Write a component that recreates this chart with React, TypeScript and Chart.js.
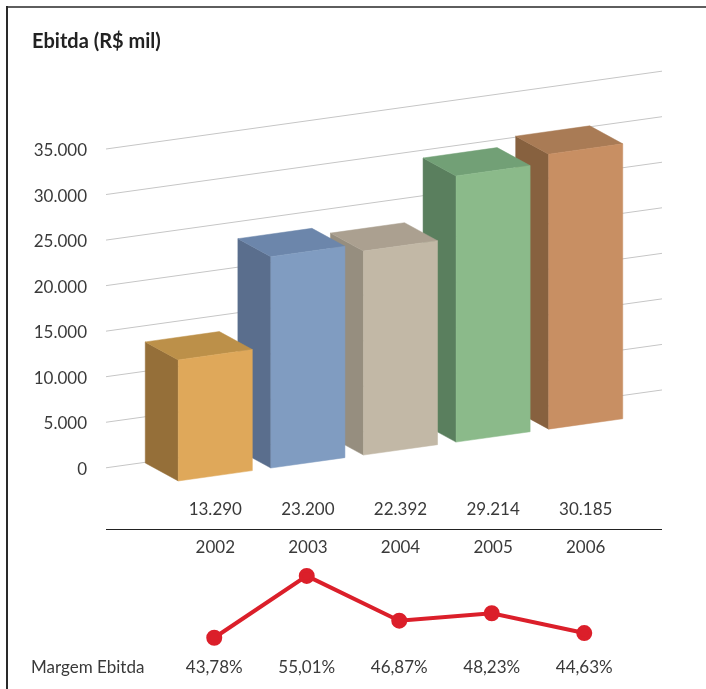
import React, { useEffect, useRef } from "react";
import { Chart, registerables } from "chart.js";

Chart.register(...registerables);

const years = ["2002", "2003", "2004", "2005", "2006"];
const ebitda = [13290, 23200, 22392, 29214, 30185];
const margem = [43.78, 55.01, 46.87, 48.23, 44.63];
const frontColors = ["#DFA85A", "#809CC1", "#C2B8A6", "#8BBA8A", "#C88F63"];
const sideColors = ["#956F39", "#5A6E8D", "#968E7F", "#5A7F5E", "#87613F"];
const topColors = ["#BC9049", "#6C86AB", "#ABA090", "#72A076", "#A97B55"];

const FONT = "Lato";
const TEXT = "#3a3a3a";
const SLOPE = -0.14;
const WALL_LEFT = 106;
const WALL_RIGHT = 662;
const FRONT_OFFSET = 23.3;
const DEPTH_X = -33;
const DEPTH_Y = -18;

const fmtThousands = (v: number) => String(v).replace(/\B(?=(\d{3})+(?!\d))/g, ".");
const fmtPct = (v: number) => v.toFixed(2).replace(".", ",") + "%";
const shear = (x: number) => SLOPE * (x - WALL_LEFT);

function poly(ctx: CanvasRenderingContext2D, pts: number[][], color: string) {
  ctx.beginPath();
  pts.forEach((p, i) => (i ? ctx.lineTo(p[0], p[1]) : ctx.moveTo(p[0], p[1])));
  ctx.closePath();
  ctx.fillStyle = color;
  ctx.fill();
  ctx.strokeStyle = color;
  ctx.lineWidth = 0.5;
  ctx.stroke();
}

const wallAndRule = {
  id: "wallAndRule",
  beforeDatasetsDraw(chart: any) {
    const { ctx, scales } = chart;
    ctx.save();
    ctx.strokeStyle = "#c6c6c6";
    ctx.lineWidth = 1;
    scales.y.ticks.forEach((t: any) => {
      const y = scales.y.getPixelForValue(t.value);
      ctx.beginPath();
      ctx.moveTo(WALL_LEFT, y);
      ctx.lineTo(WALL_RIGHT, y + shear(WALL_RIGHT));
      ctx.stroke();
    });
    ctx.strokeStyle = "#222";
    ctx.lineWidth = 1;
    ctx.beginPath();
    ctx.moveTo(WALL_LEFT, 529.5);
    ctx.lineTo(WALL_RIGHT, 529.5);
    ctx.stroke();
    ctx.restore();
  },
  beforeDatasetDraw(chart: any, args: any) {
    const { ctx } = chart;
    const bars = args.meta.data;
    ctx.save();
    for (let i = bars.length - 1; i >= 0; i--) {
      const { x, y, base, width } = bars[i].getProps(["x", "y", "base", "width"], true);
      const L = x - width / 2;
      const R = x + width / 2;
      const tl = [L, y + shear(L) + FRONT_OFFSET];
      const tr = [R, y + shear(R) + FRONT_OFFSET];
      const bl = [L, base + shear(L) + FRONT_OFFSET];
      const br = [R, base + shear(R) + FRONT_OFFSET];
      const back = (p: number[]) => [p[0] + DEPTH_X, p[1] + DEPTH_Y];
      poly(ctx, [back(tl), tl, bl, back(bl)], sideColors[i]);
      poly(ctx, [back(tl), back(tr), tr, tl], topColors[i]);
      poly(ctx, [tl, tr, br, bl], frontColors[i]);
    }
    ctx.restore();
    return false;
  },
};

const rowLabel = {
  id: "rowLabel",
  afterDraw(chart: any) {
    const { ctx, scales } = chart;
    ctx.save();
    ctx.font = `17px ${FONT}`;
    ctx.fillStyle = TEXT;
    ctx.textAlign = "left";
    ctx.textBaseline = "middle";
    ctx.fillText("Margem Ebitda", 31, scales.x.top + 7 + 10.2);
    ctx.restore();
  },
};

export default function App() {
  const barRef = useRef<HTMLCanvasElement>(null);
  const lineRef = useRef<HTMLCanvasElement>(null);

  useEffect(() => {
    const barChart = new Chart(barRef.current!, {
      type: "bar",
      data: {
        labels: years,
        datasets: [
          {
            label: "Ebitda",
            data: ebitda,
            backgroundColor: frontColors,
            barPercentage: 0.8,
            categoryPercentage: 1,
          },
        ],
      },
      options: {
        responsive: false,
        animation: false,
        layout: { padding: { left: 32, right: 74, top: 0, bottom: 0 } },
        plugins: {
          legend: { display: false },
          tooltip: { enabled: false },
          title: {
            display: true,
            text: "Ebitda (R$ mil)",
            align: "start",
            color: "#222",
            font: { family: FONT, size: 20, weight: "bold", lineHeight: 1.2 },
            padding: { top: 30, bottom: 95 },
          },
        },
        scales: {
          x: {
            grid: { display: false, drawTicks: false },
            border: { display: false },
            afterFit: (s: any) => {
              s.height = 92;
            },
            ticks: {
              autoSkip: false,
              maxRotation: 0,
              padding: 22,
              color: TEXT,
              font: { family: FONT, size: 17, lineHeight: 38.5 / 17 },
              callback: (_v: any, i: number) => [fmtThousands(ebitda[i]), years[i]],
            },
          },
          y: {
            min: 0,
            max: 35000,
            grid: { display: false, drawTicks: false },
            border: { display: false },
            afterFit: (s: any) => {
              s.width = 137;
            },
            ticks: {
              stepSize: 5000,
              padding: 82,
              labelOffset: 1.5,
              color: TEXT,
              font: { family: FONT, size: 17 },
              callback: (v: any) => fmtThousands(Number(v)),
            },
          },
        },
      },
      plugins: [wallAndRule],
    } as any);

    const lineChart = new Chart(lineRef.current!, {
      type: "line",
      data: {
        labels: years,
        datasets: [
          {
            label: "Margem Ebitda",
            data: margem,
            borderColor: "#DB1F2A",
            backgroundColor: "#DB1F2A",
            borderWidth: 4,
            pointRadius: 6,
            tension: 0,
            clip: false,
          },
        ],
      },
      options: {
        responsive: false,
        animation: false,
        layout: { autoPadding: false, padding: { left: 168, right: 75.5, top: 0, bottom: 0 } },
        plugins: { legend: { display: false }, tooltip: { enabled: false } },
        scales: {
          x: {
            offset: true,
            grid: { display: false, drawTicks: false },
            border: { display: false },
            afterFit: (s: any) => {
              s.height = 39;
            },
            ticks: {
              autoSkip: false,
              maxRotation: 0,
              padding: 7,
              color: TEXT,
              font: { family: FONT, size: 17, lineHeight: 1.2 },
              callback: (_v: any, i: number) => fmtPct(margem[i]),
            },
          },
          y: { display: false, min: 41.55, max: 57.9 },
        },
      },
      plugins: [rowLabel],
    } as any);

    return () => {
      barChart.destroy();
      lineChart.destroy();
    };
  }, []);

  return (
    <div style={{ position: "absolute", left: 0, top: 0, width: 706, height: 689, overflow: "hidden", background: "#fff" }}>
      <div style={{ position: "absolute", left: 6, top: 6, width: 700, height: 2, background: "#5e5e5e" }} />
      <div style={{ position: "absolute", left: 6, top: 6, width: 1.5, height: 683, background: "#2a2a2a" }} />
      <canvas ref={barRef} width={706} height={560} style={{ position: "absolute", left: 0, top: 0, display: "block" }} />
      <canvas ref={lineRef} width={706} height={129} style={{ position: "absolute", left: 0, top: 560, display: "block" }} />
    </div>
  );
}
